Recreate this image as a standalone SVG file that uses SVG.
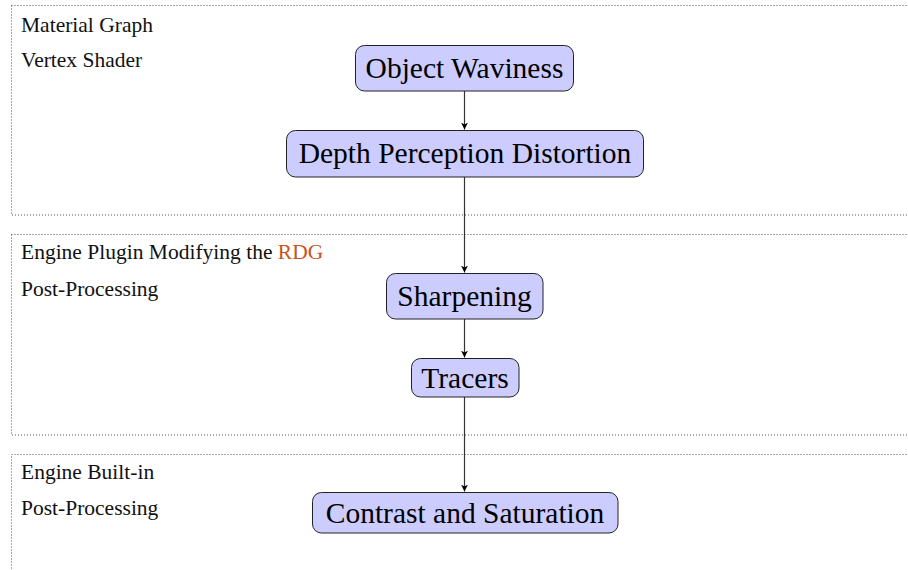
<svg xmlns="http://www.w3.org/2000/svg" width="908" height="570" viewBox="0 0 908 570">
<style>
.panel{fill:none;stroke:#555;stroke-width:1;stroke-dasharray:1 2}
.lbl{font-family:"Liberation Serif","DejaVu Serif",serif;font-size:21.5px;fill:#111}
.acr{fill:#c8531e}
.node rect{fill:#ccccff;stroke:#222;stroke-width:1}
.node text{font-family:"Liberation Serif","DejaVu Serif",serif;font-size:29.5px;fill:#000;text-anchor:middle}
.edge{stroke:#333;stroke-width:1.2;fill:none;marker-end:url(#arr)}
</style>
<defs>
<marker id="arr" viewBox="0 0 10 10" refX="10" refY="5" markerWidth="7" markerHeight="7" markerUnits="userSpaceOnUse" orient="auto">
<path d="M0,0 L10,5 L0,10 L3,5 Z" fill="#000"/>
</marker>
</defs>
<rect width="908" height="570" fill="#fff"/>
<g id="panels">
<g id="panel-material">
<rect class="panel" x="11.5" y="5.5" width="910" height="209.5"/>
<text class="lbl" x="21" y="31.5">Material Graph</text>
<text class="lbl" x="21" y="67">Vertex Shader</text>
</g>
<g id="panel-plugin">
<rect class="panel" x="11.5" y="234.5" width="910" height="200.5"/>
<text class="lbl" x="21" y="259">Engine Plugin Modifying the <tspan class="acr">RDG</tspan></text>
<text class="lbl" x="21" y="296">Post-Processing</text>
</g>
<g id="panel-builtin">
<rect class="panel" x="11.5" y="454.5" width="910" height="200"/>
<text class="lbl" x="21" y="478.5">Engine Built-in</text>
<text class="lbl" x="21" y="515">Post-Processing</text>
</g>
</g>
<g id="connectors">
<line class="edge" x1="464.5" y1="91" x2="464.5" y2="129.5"/>
<line class="edge" x1="464.5" y1="177" x2="464.5" y2="272.5"/>
<line class="edge" x1="464.5" y1="319" x2="464.5" y2="357.5"/>
<line class="edge" x1="464.5" y1="397" x2="464.5" y2="491.5"/>
</g>
<g id="node-waviness" class="node">
<rect x="355.5" y="45.5" width="218" height="45.5" rx="9"/>
<text x="464.5" y="78">Object Waviness</text>
</g>
<g id="node-depth" class="node">
<rect x="286.5" y="130.5" width="357" height="46.5" rx="9"/>
<text x="465" y="163">Depth Perception Distortion</text>
</g>
<g id="node-sharpening" class="node">
<rect x="386.5" y="273.5" width="156.5" height="45.5" rx="9"/>
<text x="464.5" y="306">Sharpening</text>
</g>
<g id="node-tracers" class="node">
<rect x="411.5" y="358.5" width="107.5" height="38.5" rx="9"/>
<text x="465" y="388">Tracers</text>
</g>
<g id="node-contrast" class="node">
<rect x="312.5" y="492.5" width="305.5" height="40.5" rx="9"/>
<text x="465" y="523">Contrast and Saturation</text>
</g>
</svg>
